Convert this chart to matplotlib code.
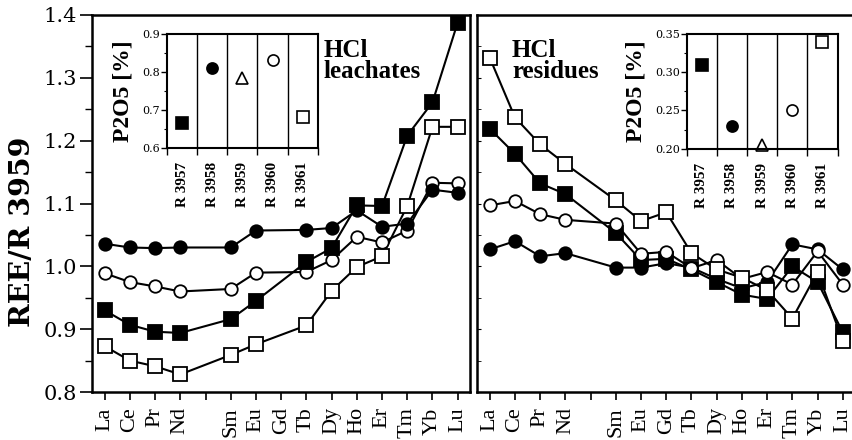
import numpy as np
import matplotlib
matplotlib.use('Agg')
import matplotlib.pyplot as plt

plt.rcParams['font.family'] = ['Liberation Serif', 'DejaVu Serif']
WIDE = ['DejaVu Serif']

# REE order, Pm has no data
elements = ['La', 'Ce', 'Pr', 'Nd', 'Pm', 'Sm', 'Eu', 'Gd', 'Tb', 'Dy', 'Ho', 'Er', 'Tm', 'Yb', 'Lu']
elem_labels = ['La', 'Ce', 'Pr', 'Nd', '', 'Sm', 'Eu', 'Gd', 'Tb', 'Dy', 'Ho', 'Er', 'Tm', 'Yb', 'Lu']
nan = np.nan

# HCl leachates, normalised to R 3959
leach_3957 = [0.930, 0.907, 0.896, 0.894, nan, 0.916, 0.945, nan, 1.007, 1.029, 1.097, 1.096, 1.208, 1.261, 1.388]
leach_3958 = [1.036, 1.030, 1.029, 1.030, nan, 1.030, 1.057, nan, 1.058, 1.061, 1.089, 1.063, 1.068, 1.122, 1.117]
leach_3960 = [0.989, 0.975, 0.968, 0.960, nan, 0.964, 0.990, nan, 0.991, 1.010, 1.047, 1.038, 1.057, 1.133, 1.132]
leach_3961 = [0.873, 0.850, 0.841, 0.828, nan, 0.859, 0.876, nan, 0.906, 0.961, 0.999, 1.016, 1.096, 1.222, 1.222]

# HCl residues, normalised to R 3959
resid_3957 = [1.219, 1.179, 1.132, 1.115, nan, 1.053, 1.010, 1.012, 0.995, 0.975, 0.955, 0.948, 1.000, 0.975, 0.895]
resid_3958 = [1.027, 1.040, 1.016, 1.021, nan, 0.998, 0.998, 1.005, 0.998, 0.980, 0.965, 0.975, 1.035, 1.027, 0.995]
resid_3960 = [1.097, 1.104, 1.083, 1.074, nan, 1.068, 1.020, 1.023, 0.997, 1.010, 0.980, 0.991, 0.971, 1.024, 0.971]
resid_3961 = [1.332, 1.237, 1.194, 1.163, nan, 1.105, 1.072, 1.086, 1.021, 0.995, 0.982, 0.962, 0.917, 0.991, 0.881]

# P2O5 contents for insets
samples = ['R 3957', 'R 3958', 'R 3959', 'R 3960', 'R 3961']
p2o5_leach = [0.665, 0.81, 0.785, 0.83, 0.68]
p2o5_resid = [0.31, 0.23, 0.205, 0.25, 0.34]

styles = {
    'R 3957': dict(marker='s', mfc='black'),
    'R 3958': dict(marker='o', mfc='black'),
    'R 3959': dict(marker='^', mfc='white'),
    'R 3960': dict(marker='o', mfc='white'),
    'R 3961': dict(marker='s', mfc='white'),
}

fig = plt.figure(figsize=(8.52, 4.4), dpi=100)
ax1 = fig.add_axes([0.108, 0.109, 0.444, 0.857])
ax2 = fig.add_axes([0.560, 0.109, 0.444, 0.857])

x = np.arange(len(elements))


def draw_series(ax, series):
    for name, vals in series:
        v = np.array(vals, dtype=float)
        m = ~np.isnan(v)
        st = styles[name]
        ax.plot(x[m], v[m], color='black', lw=1.5, marker=st['marker'],
                mfc=st['mfc'], mec='black', mew=1.3, ms=9.5 if st['marker'] == 's' else 9)


draw_series(ax1, [('R 3961', leach_3961), ('R 3960', leach_3960),
                  ('R 3958', leach_3958), ('R 3957', leach_3957)])
draw_series(ax2, [('R 3958', resid_3958), ('R 3957', resid_3957),
                  ('R 3960', resid_3960), ('R 3961', resid_3961)])

yt = np.arange(0.8, 1.41, 0.1)
for ax in (ax1, ax2):
    ax.set_xlim(-0.5, 14.5)
    ax.set_ylim(0.8, 1.4)
    ax.set_xticks(x)
    ax.set_xticklabels(elem_labels, rotation=90, fontsize=16)
    ax.set_yticks(yt)
    ax.set_yticks(np.arange(0.85, 1.4, 0.1), minor=True)
    ax.tick_params(axis='x', direction='out', length=6, width=1.2, pad=5)
    for s in ax.spines.values():
        s.set_linewidth(1.8)

ax1.set_yticklabels([f'{t:.1f}' for t in yt], fontsize=15, family=WIDE)
ax1.tick_params(axis='y', which='major', direction='out', length=9, width=1.2, pad=2)
ax1.tick_params(axis='y', which='minor', direction='out', length=5, width=1)
ax2.tick_params(axis='y', which='both', direction='in', length=3, labelleft=False)
fig.text(23 / 852, 1 - 232 / 440, 'REE/R 3959', rotation=90, ha='center', va='center',
         fontsize=20.5, fontweight='bold', family=WIDE)

ax1.text(0.611, 0.935, 'HCl\nleachates', transform=ax1.transAxes, fontsize=18,
         fontweight='bold', va='top', ha='left', linespacing=0.85)
ax2.text(0.092, 0.935, 'HCl\nresidues', transform=ax2.transAxes, fontsize=18,
         fontweight='bold', va='top', ha='left', linespacing=0.85)


def inset(rect, vals, ylim, yticks, fmt):
    ins = fig.add_axes(rect)
    xi = np.arange(len(samples))
    for i, s in enumerate(samples):
        st = styles[s]
        ins.plot(xi[i], vals[i], marker=st['marker'], mfc=st['mfc'], mec='black',
                 mew=1.2, ms=8, color='black', clip_on=False)
    ins.set_xlim(-0.5, 4.5)
    ins.set_ylim(*ylim)
    for b in np.arange(0.5, 4.5, 1):
        ins.axvline(b, color='black', lw=1)
    ins.set_xticks(np.arange(-0.5, 5, 1))
    ins.set_xticklabels([])
    ins.set_xticks(xi, minor=True)
    ins.set_xticklabels(samples, minor=True, rotation=90, fontsize=11, fontweight='bold')
    ins.tick_params(axis='x', which='major', direction='out', length=5, width=1)
    ins.tick_params(axis='x', which='minor', length=0, pad=10)
    ins.set_yticks(yticks)
    ins.set_yticklabels([fmt.format(t) for t in yticks], fontsize=8, family=WIDE)
    ins.set_yticks(np.array(yticks[:-1]) + (yticks[1] - yticks[0]) / 2, minor=True)
    ins.tick_params(axis='y', which='major', direction='out', length=4, width=1, pad=1)
    ins.tick_params(axis='y', which='minor', direction='out', length=2, width=0.8)
    ins.set_ylabel('P2O5 [%]', fontsize=17, fontweight='bold', labelpad=6)
    for s in ins.spines.values():
        s.set_linewidth(1.5)
    return ins


inset([0.196, 0.664, 0.177, 0.259], p2o5_leach, (0.6, 0.9), [0.6, 0.7, 0.8, 0.9], '{:.1f}')
inset([0.806, 0.662, 0.177, 0.261], p2o5_resid, (0.2, 0.35), [0.20, 0.25, 0.30, 0.35], '{:.2f}')

fig.savefig('out.png', dpi=100)
